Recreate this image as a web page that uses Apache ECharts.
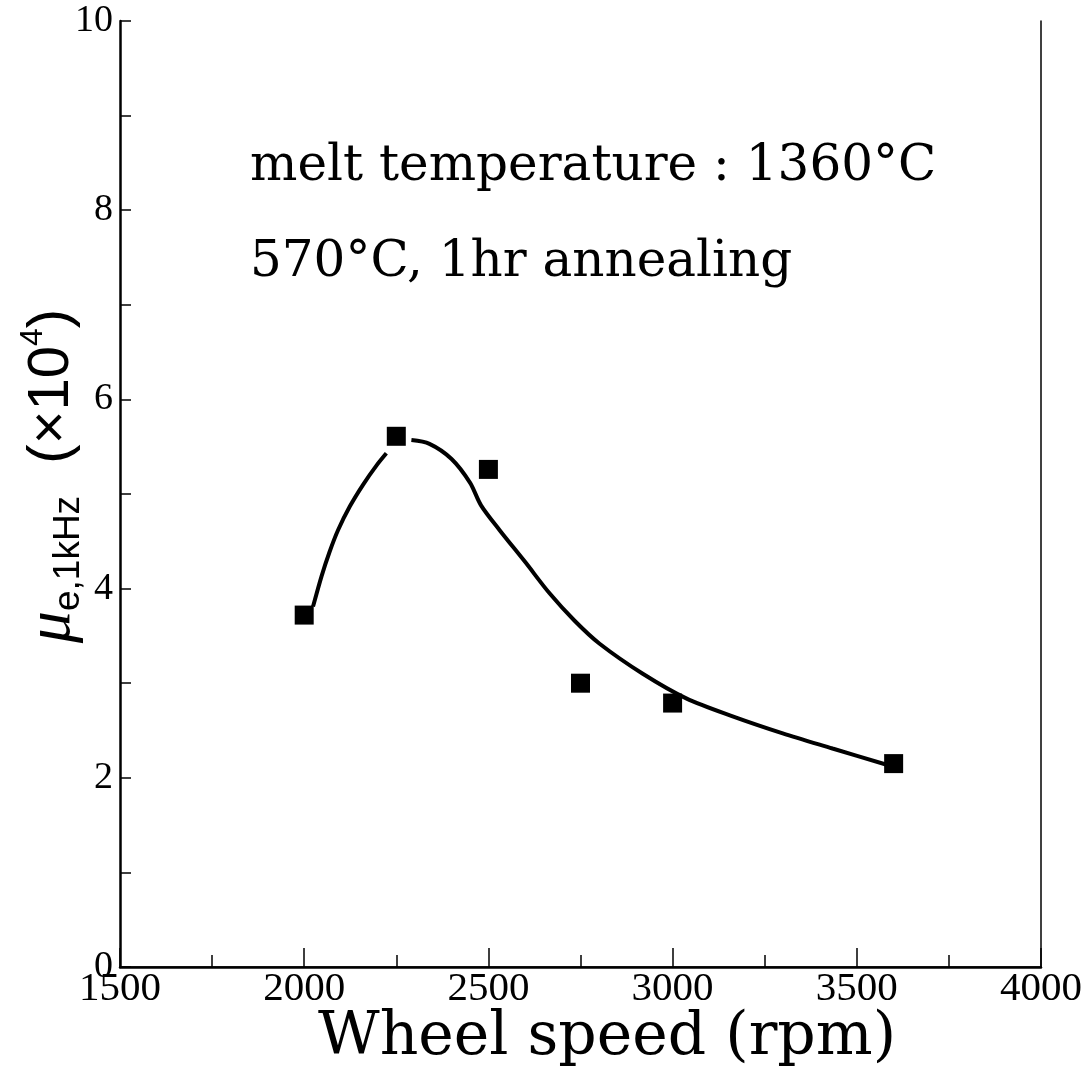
<!DOCTYPE html>
<html>
<head>
<meta charset="utf-8">
<script src="https://cdn.jsdelivr.net/npm/echarts@6/dist/echarts.min.js"></script>
<style>html,body{margin:0;padding:0;background:#fff;overflow:hidden}#c{width:1085px;height:1069px}</style>
</head>
<body>
<div id="c"></div>
<script>
// Measured points
var speeds = [2000, 2250, 2500, 2750, 3000, 3600];
var mu = [3.72, 5.61, 5.26, 3.00, 2.79, 2.15];

// Hand-drawn fit curve (two segments, gap near the 2250 point)
var fitSpeed1 = [2024, 2047, 2069, 2092, 2124, 2160, 2196, 2223];
var fitMu1    = [3.81, 4.13, 4.39, 4.62, 4.87, 5.10, 5.30, 5.43];
var fitSpeed2 = [2291, 2340, 2400, 2450, 2480, 2530, 2600, 2666, 2734, 2801, 2919, 3037, 3163, 3299, 3434, 3588];
var fitMu2    = [5.57, 5.53, 5.37, 5.12, 4.88, 4.62, 4.28, 3.95, 3.66, 3.42, 3.10, 2.84, 2.65, 2.47, 2.31, 2.13];

var xTicks = [1500, 2000, 2500, 3000, 3500, 4000];
var yTicks = [0, 2, 4, 6, 8, 10];

var note1 = 'melt temperature : 1360°C';
var note2 = '570°C, 1hr annealing';
var xTitle = 'Wheel speed (rpm)';

function pairs(xs, ys) { return xs.map(function (x, i) { return [x, ys[i]]; }); }
var fitData = pairs(fitSpeed1, fitMu1).concat([[2257, null]]).concat(pairs(fitSpeed2, fitMu2));

var chart = echarts.init(document.getElementById('c'), null, {renderer: 'canvas', width: 1085, height: 1069});
chart.setOption({
  animation: false,
  backgroundColor: '#fff',
  grid: {left: 120, right: 43, top: 21, bottom: 102, containLabel: false},
  xAxis: [
    {
      type: 'value', min: xTicks[0], max: xTicks[xTicks.length - 1], interval: 500,
      axisLine: {show: true, lineStyle: {color: '#000', width: 2.5}},
      splitLine: {show: false},
      axisTick: {show: true, inside: true, length: 19, lineStyle: {color: '#000', width: 1.5}},
      minorTick: {show: true, splitNumber: 2, length: 12, lineStyle: {color: '#000', width: 1.5}},
      axisLabel: {color: '#000', fontFamily: 'Liberation Serif', fontSize: 41, margin: 2,
                  formatter: function (v) { return String(v); }}
    },
    {type: 'value', position: 'top', min: 1500, max: 4000,
     axisLine: {show: true, lineStyle: {color: '#000', width: 1.5}},
     axisTick: {show: false}, axisLabel: {show: false}, splitLine: {show: false}}
  ],
  yAxis: [
    {
      type: 'value', min: yTicks[0], max: yTicks[yTicks.length - 1], interval: 2,
      axisLine: {show: true, lineStyle: {color: '#000', width: 2.5}},
      splitLine: {show: false},
      axisTick: {show: true, inside: true, length: 11, lineStyle: {color: '#000', width: 1.5}},
      minorTick: {show: true, splitNumber: 2, length: 11, lineStyle: {color: '#000', width: 1.5}},
      axisLabel: {color: '#000', fontFamily: 'Liberation Serif', fontSize: 38, margin: 7,
                  formatter: function (v) { return String(v); }}
    },
    {type: 'value', position: 'right', min: 0, max: 10,
     axisLine: {show: true, lineStyle: {color: '#000', width: 1.5}},
     axisTick: {show: false}, axisLabel: {show: false}, splitLine: {show: false}}
  ],
  series: [
    {type: 'line', data: fitData, smooth: 0.3, connectNulls: false, showSymbol: false, symbol: 'none',
     lineStyle: {color: '#000', width: 4}, z: 2},
    {type: 'scatter', data: pairs(speeds, mu), symbol: 'rect', symbolSize: 19,
     itemStyle: {color: '#000', opacity: 1}, z: 3}
  ],
  graphic: [
    {type: 'text', left: 250, top: 142, style: {text: note1, font: '50px "DejaVu Serif"', fill: '#000'}},
    {type: 'text', left: 250, top: 238, style: {text: note2, font: '50px "DejaVu Serif"', fill: '#000'}},
    {type: 'text', x: 607, y: 1038, style: {text: xTitle, font: '60px "DejaVu Serif"', fill: '#000', align: 'center', verticalAlign: 'middle'}},
    {type: 'text', x: 52, y: 476, rotation: Math.PI / 2,
     style: {
       text: '{m|μ}{s|e,1kHz}{b|  (×10}{p|4}{b|)}',
       align: 'center', verticalAlign: 'middle', fill: '#000',
       rich: {
         m: {fontFamily: 'Liberation Serif', fontStyle: 'italic', fontSize: 64, lineHeight: 70, verticalAlign: 'middle'},
         s: {fontFamily: 'Liberation Sans', fontSize: 37, lineHeight: 70, verticalAlign: 'bottom'},
         b: {fontFamily: 'Liberation Sans', fontSize: 58, lineHeight: 70, verticalAlign: 'middle'},
         p: {fontFamily: 'Liberation Sans', fontSize: 32, lineHeight: 70, verticalAlign: 'top'}
       }
     }}
  ]
});
</script>
</body>
</html>
